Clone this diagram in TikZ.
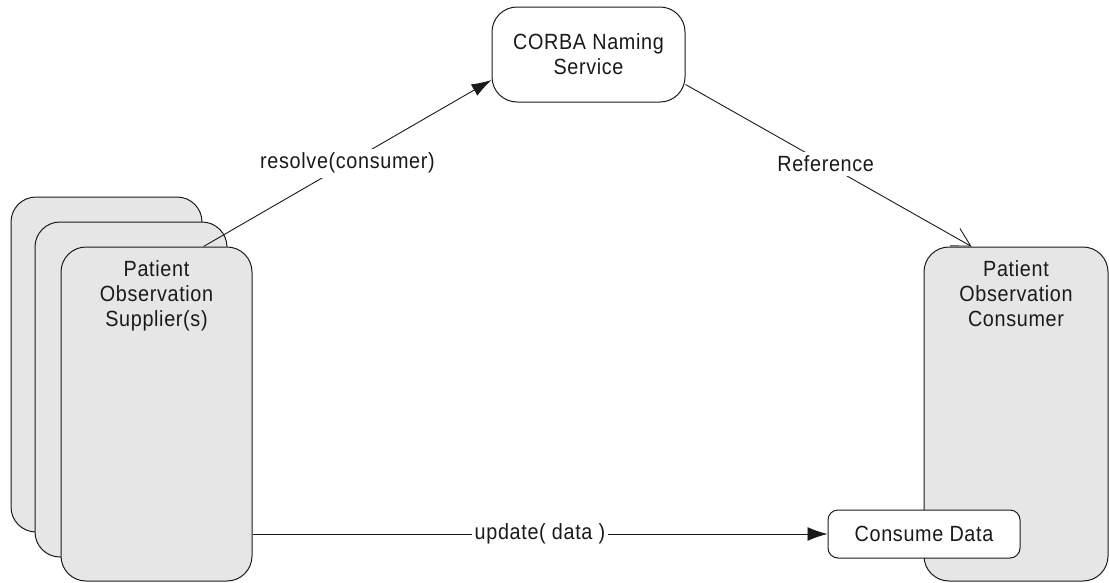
\documentclass[tikz,border=0pt]{standalone}
\usepackage{fontspec}
\setmainfont{Liberation Sans}[LetterSpace=3,FakeStretch=0.9]
\usetikzlibrary{arrows.meta,calc}
\definecolor{boxgray}{HTML}{E6E6E6}
\definecolor{ink}{HTML}{1A1A1A}
\begin{document}
\begin{tikzpicture}[x=1pt,y=-1pt,
  txt/.style={font=\fontsize{22}{25}\selectfont, align=center, text=ink},
  graybox/.style={draw=ink, line width=1pt, fill=boxgray, rounded corners=25pt, inner sep=0pt},
  whitebox/.style={draw=ink, line width=1pt, fill=white, inner sep=0pt, txt},
  conn/.style={draw=ink, line width=0.9pt},
  lbl/.style={txt, fill=white, inner xsep=3pt, inner ysep=4pt}
]
\useasboundingbox (0,0) rectangle (1109,582);
\node[graybox, minimum width=191pt, minimum height=335pt] (sup1) at (106.5,364.5) {};
\node[graybox, minimum width=192pt, minimum height=335pt] (sup2) at (131,389.5) {};
\node[graybox, minimum width=191pt, minimum height=334pt,
  label={[txt,anchor=north,yshift=-11pt]north:Patient\\Observation\\Supplier(s)}] (sup3) at (156.5,414) {};
\node[graybox, minimum width=184pt, minimum height=334pt,
  label={[txt,anchor=north,yshift=-11pt]north:Patient\\Observation\\Consumer}] (cons) at (1016,414) {};
\node[whitebox, rounded corners=25pt, minimum width=193pt, minimum height=95pt] (corba) at (588.5,54.5) {CORBA Naming\\Service};
\node[whitebox, rounded corners=10pt, minimum width=192pt, minimum height=48pt] (consume) at (924,534) {Consume Data};

\coordinate (rs) at ($(sup3.north west)+(143,0)$);
\coordinate (rt) at ($(corba.west)+(0,25.5)$);
\coordinate (fs) at ($(corba.east)+(0,30)$);
\coordinate (ft) at ($(cons.north west)+(48,0)$);
\coordinate (us) at (sup3.east |- consume.west);

\draw[conn, -{Latex[length=20pt,width=13pt]}] (rs) -- node[lbl, pos=0.5] {resolve(consumer)} (rt);
\draw[conn, -{Straight Barb[length=18pt,width=20pt]}] (fs) -- node[lbl, pos=0.49] {Reference} (ft);
\draw[conn, -{Latex[length=20pt,width=14pt]}] (us) -- node[lbl, pos=0.5] {update( data )} (consume.west);
\end{tikzpicture}
\end{document}
